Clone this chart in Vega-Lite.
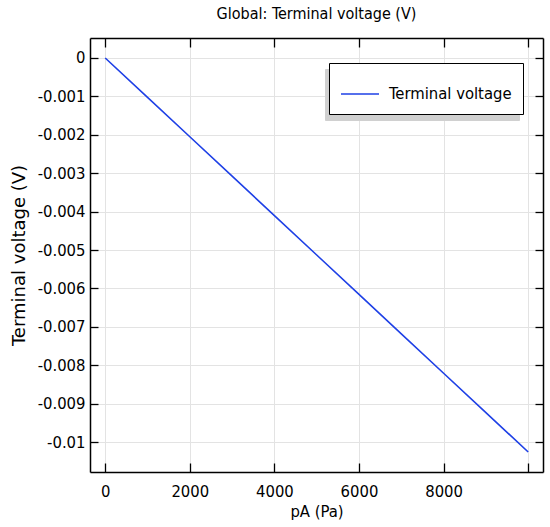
{
  "$schema": "https://vega.github.io/schema/vega-lite/v6.json",
  "width": 453,
  "height": 434,
  "autosize": {"type": "none"},
  "padding": {"left": 90, "top": 38, "right": 7, "bottom": 55},
  "background": "white",
  "title": {
    "text": "Global: Terminal voltage (V)",
    "font": "DejaVu Sans Condensed",
    "fontSize": 16,
    "fontWeight": "normal",
    "color": "#000000",
    "offset": 15
  },
  "data": {
    "values": [
      {"p": 0, "v": 0, "series": "Terminal voltage"},
      {"p": 1000, "v": -0.001026, "series": "Terminal voltage"},
      {"p": 2000, "v": -0.002052, "series": "Terminal voltage"},
      {"p": 3000, "v": -0.003078, "series": "Terminal voltage"},
      {"p": 4000, "v": -0.004104, "series": "Terminal voltage"},
      {"p": 5000, "v": -0.00513, "series": "Terminal voltage"},
      {"p": 6000, "v": -0.006156, "series": "Terminal voltage"},
      {"p": 7000, "v": -0.007182, "series": "Terminal voltage"},
      {"p": 8000, "v": -0.008208, "series": "Terminal voltage"},
      {"p": 9000, "v": -0.009234, "series": "Terminal voltage"},
      {"p": 10000, "v": -0.01026, "series": "Terminal voltage"}
    ]
  },
  "layer": [
    {
      "mark": {"type": "line", "strokeOpacity": 0},
      "encoding": {
        "x": {
          "field": "p", "type": "quantitative",
          "scale": {"domain": [-360, 10350], "nice": false, "zero": false},
          "axis": {
            "orient": "top",
            "title": null,
            "values": [0, 2000, 4000, 6000, 8000, 10000],
            "labels": false,
            "grid": false,
            "tickSize": -9
          }
        },
        "y": {
          "field": "v", "type": "quantitative",
          "scale": {"domain": [-0.01078, 0.00052], "nice": false, "zero": false},
          "axis": {
            "orient": "right",
            "title": null,
            "values": [0, -0.001, -0.002, -0.003, -0.004, -0.005, -0.006, -0.007, -0.008, -0.009, -0.01],
            "labels": false,
            "grid": false,
            "tickSize": -8
          }
        },
        "strokeDash": {
          "datum": "Terminal voltage",
          "legend": {
            "title": null,
            "orient": "none",
            "legendX": 235,
            "legendY": 31,
            "symbolType": "stroke",
            "symbolSize": 1444,
            "symbolStrokeWidth": 1.6,
            "symbolStrokeColor": "#d0d0d0",
            "labelFontSize": 16.5,
            "labelFont": "DejaVu Sans Condensed",
            "labelColor": "#d0d0d0",
            "labelOffset": 9,
            "padding": 11,
            "fillColor": "#d0d0d0",
            "strokeColor": "#d0d0d0"
          }
        }
      }
    },
    {
      "mark": {"type": "line", "strokeWidth": 1.6},
      "encoding": {
        "x": {
          "field": "p", "type": "quantitative",
          "axis": {
            "orient": "bottom",
            "title": "pA (Pa)",
            "values": [0, 2000, 4000, 6000, 8000, 10000],
            "labelExpr": "datum.value == 10000 ? '' : format(datum.value, 'd')",
            "grid": true,
            "tickSize": -9,
            "labelPadding": 20,
            "titlePadding": 4
          }
        },
        "y": {
          "field": "v", "type": "quantitative",
          "axis": {
            "orient": "left",
            "title": "Terminal voltage (V)",
            "values": [0, -0.001, -0.002, -0.003, -0.004, -0.005, -0.006, -0.007, -0.008, -0.009, -0.01],
            "labelExpr": "datum.value == 0 ? '0' : '-' + format(abs(datum.value), '~g')",
            "grid": true,
            "tickSize": -8,
            "labelPadding": 13,
            "titlePadding": 9
          }
        },
        "stroke": {
          "field": "series", "type": "nominal",
          "scale": {"range": ["#1e40e6"]},
          "legend": {
            "title": null,
            "orient": "none",
            "legendX": 239,
            "legendY": 25,
            "symbolType": "stroke",
            "symbolSize": 1444,
            "symbolStrokeWidth": 1.6,
            "labelFontSize": 16.5,
            "labelFont": "DejaVu Sans Condensed",
            "labelColor": "#000000",
            "labelOffset": 9,
            "padding": 11,
            "fillColor": "white",
            "strokeColor": "#000000"
          }
        }
      }
    }
  ],
  "resolve": {"axis": {"x": "independent", "y": "independent"}},
  "config": {
    "view": {"stroke": null},
    "axis": {
      "domainColor": "#000000",
      "domainWidth": 1.5,
      "tickColor": "#000000",
      "tickWidth": 1.3,
      "gridColor": "#e3e3e3",
      "gridWidth": 1,
      "labelFont": "DejaVu Sans Condensed",
      "labelFontSize": 16.5,
      "labelColor": "#000000",
      "titleFont": "DejaVu Sans Condensed",
      "titleFontSize": 16.5,
      "titleFontWeight": "normal",
      "titleColor": "#000000"
    },
    "axisY": {"titleFontSize": 18, "titleFont": "DejaVu Sans"}
  }
}
